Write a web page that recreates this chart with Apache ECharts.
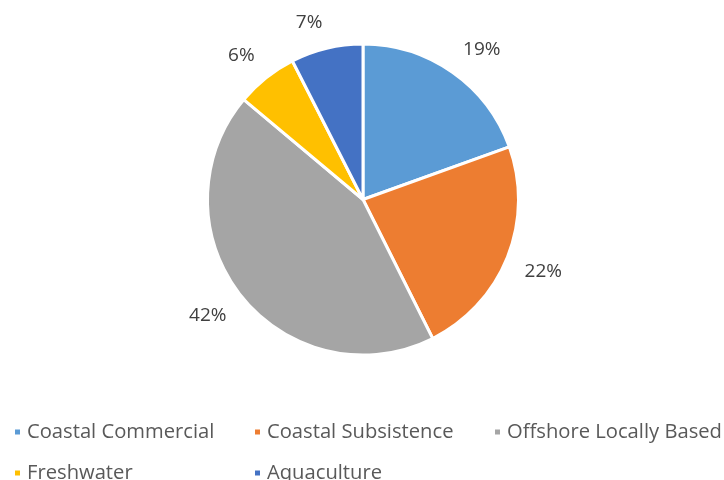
<!DOCTYPE html>
<html><head><meta charset="utf-8">
<script src="https://cdn.jsdelivr.net/npm/echarts@6/dist/echarts.min.js"></script>
<style>html,body{margin:0;padding:0;background:#fff}#c{width:724px;height:480px}</style>
</head><body><div id="c"></div>
<script>
const categories = ['Coastal Commercial', 'Coastal Subsistence', 'Offshore Locally Based', 'Freshwater', 'Aquaculture'];
const values = [19.5, 23.1, 43.5, 6.4, 7.5];
const pctLabels = ['19%', '22%', '42%', '6%', '7%'];
const colors = ['#5B9BD5', '#ED7D31', '#A5A5A5', '#FFC000', '#4472C4'];

const FONT = 'Open Sans';
const CX = 363, CY = 199.5, R = 155.5, LABEL_DIST = 174, LABEL_H = 15.5;
const legendPos = [[13, 422], [253, 422], [493, 422], [13, 463], [253, 463]];

const total = values.reduce((a, b) => a + b, 0);
const midAngles = [];
let acc = 0;
values.forEach(v => { midAngles.push((acc + v / 2) / total * 2 * Math.PI); acc += v; });

const chart = echarts.init(document.getElementById('c'), null, {renderer: 'canvas'});
const data = categories.map((n, i) => ({name: n, value: values[i], itemStyle: {color: colors[i]}}));
const option = {
  animation: false,
  backgroundColor: '#fff',
  legend: categories.map((n, i) => ({
    data: [n], left: legendPos[i][0], top: legendPos[i][1], padding: 0,
    icon: 'rect', itemWidth: 7, itemHeight: 7, selectedMode: false,
    textStyle: {fontFamily: FONT, fontSize: 20.2, color: '#595959', padding: [0, 0, 0, 1]}
  })),
  series: [
    {
      type: 'pie', center: [CX, CY], radius: R, startAngle: 90, clockwise: true,
      label: {show: false}, labelLine: {show: false}, silent: true,
      itemStyle: {borderColor: '#fff', borderWidth: 3},
      data: data
    },
    {
      type: 'pie', center: [CX, CY], radius: [185, 195], startAngle: 90, clockwise: true,
      silent: true, itemStyle: {color: 'transparent'},
      label: {show: true, position: 'inside', fontFamily: FONT, fontSize: 19, color: '#404040',
        formatter: p => pctLabels[p.dataIndex]},
      labelLine: {show: false},
      labelLayout: function (params) {
        const a = midAngles[params.dataIndex];
        const ux = Math.sin(a), uy = -Math.cos(a);
        const w = params.labelRect.width;
        return {
          x: CX + ux * LABEL_DIST + Math.sign(ux) * w / 2,
          y: CY + uy * LABEL_DIST + Math.sign(uy) * LABEL_H / 2
        };
      },
      data: categories.map((n, i) => ({name: n, value: values[i]}))
    }
  ]
};
chart.setOption(option);
</script></body></html>
